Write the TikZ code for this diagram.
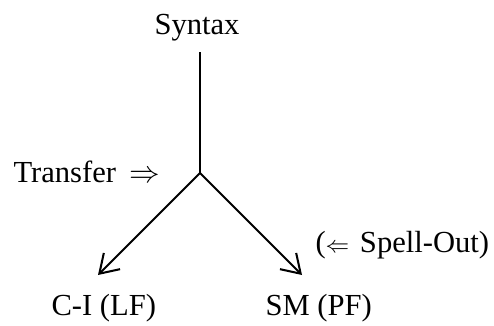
\documentclass[tikz,border=0pt]{standalone}
\usepackage{amsmath}
\usepackage{amssymb}
\usepackage{fontspec}
\setmainfont{Liberation Serif}
\usetikzlibrary{%
  arrows.meta,
  positioning
}

\begin{document}
\begin{tikzpicture}[x={(0.3922pt,0pt)},y={(0pt,-0.3922pt)},
    every node/.style={inner sep=0pt,font=\fontsize{12pt}{14pt}\selectfont},
    branch/.style={line width=0.8pt,-{Straight Barb[length=7pt,width=9pt]}}]
  \useasboundingbox (0,0) rectangle (494,325);

  \node [anchor=base] (syntax) at (197,34) {Syntax};
  \coordinate (stem) at (200,52);
  \coordinate (split) at (200,173);
  \coordinate (lfend) at (98,275);
  \coordinate (pfend) at (302,275);

  \node [anchor=base west] (transfer) at (13,182) {Transfer\hspace{0.45em}$\Rightarrow$};
  \node [anchor=base west] (spell) at (315,252)
    {({\fontsize{9pt}{10pt}\selectfont$\Leftarrow$}\hspace{0.35em}Spell-Out)};

  \node [anchor=base west] (ci) at (51,315) {C-I (LF)};
  \node [anchor=base west] (sm) at (265,315) {SM (PF)};

  \draw [line width=0.8pt] (stem) -- (split);
  \draw [branch] (split) -- (lfend);
  \draw [branch] (split) -- (pfend);
\end{tikzpicture}
\end{document}
